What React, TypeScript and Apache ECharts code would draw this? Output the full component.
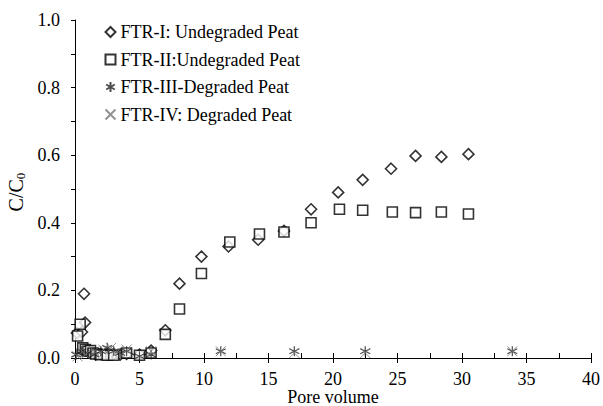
import React, { useEffect, useRef } from "react";
import * as echarts from "echarts";

const ftr1: number[][] = [
  [0.15, 0.074], [0.54, 0.077], [0.7, 0.19], [0.78, 0.105], [1.0, 0.02], [1.3, 0.015],
  [1.6, 0.01], [2.0, 0.012], [2.5, 0.01], [3.0, 0.012], [3.5, 0.01], [4.0, 0.012],
  [5.0, 0.01], [5.9, 0.022], [7.0, 0.082], [8.1, 0.22], [9.8, 0.3], [11.9, 0.33],
  [14.2, 0.35], [16.2, 0.376], [18.3, 0.44], [20.4, 0.49], [22.3, 0.527], [24.5, 0.56],
  [26.4, 0.598], [28.4, 0.595], [30.5, 0.603],
];
const ftr2: number[][] = [
  [0.2, 0.065], [0.4, 0.1], [0.6, 0.03], [0.8, 0.025], [1.0, 0.02], [1.2, 0.022],
  [1.4, 0.015], [1.6, 0.012], [2.0, 0.01], [2.5, 0.008], [3.0, 0.008], [4.0, 0.015],
  [5.0, 0.008], [5.9, 0.015], [7.0, 0.07], [8.1, 0.145], [9.8, 0.25], [12.0, 0.343],
  [14.3, 0.367], [16.2, 0.373], [18.3, 0.4], [20.5, 0.44], [22.3, 0.437], [24.6, 0.432],
  [26.4, 0.43], [28.4, 0.432], [30.5, 0.426],
];
const ftr3: number[][] = [
  [0.1, 0.01], [0.5, 0.02], [1.0, 0.015], [1.5, 0.01], [2.0, 0.02], [2.5, 0.03],
  [3.0, 0.02], [3.5, 0.015], [4.0, 0.02], [5.0, 0.005], [5.9, 0.01], [11.3, 0.02],
  [17.0, 0.02], [22.5, 0.02], [33.9, 0.02],
];
const ftr4: number[][] = [
  [0.2, 0.005], [0.8, 0.01], [1.5, 0.02], [2.2, 0.025], [2.8, 0.03], [3.3, 0.02],
  [4.0, 0.025], [5.9, 0.02], [11.3, 0.02], [17.0, 0.015], [22.5, 0.015], [33.9, 0.02],
];
const seriesNames = [
  "FTR-I: Undegraded Peat",
  "FTR-II:Undegraded Peat",
  "FTR-III-Degraded Peat",
  "FTR-IV: Degraded Peat",
];

const FONT = "Liberation Serif";
const FS = 18;
const STAR = "path://M5,0L5,10M0.7,2.5L9.3,7.5M0.7,7.5L9.3,2.5";
const CROSS = "path://M0,0L10,10M10,0L0,10";

export default function App() {
  const ref = useRef<HTMLDivElement>(null);
  useEffect(() => {
    if (!ref.current) return;
    const chart = echarts.init(ref.current, undefined, { renderer: "svg" });
    chart.setOption({
      animation: false,
      textStyle: { fontFamily: FONT, color: "#000" },
      grid: { left: 75, right: 12, top: 20, bottom: 48, outerBoundsMode: "none", containLabel: false },
      legend: {
        orient: "vertical",
        left: 98,
        top: 18,
        itemWidth: 10,
        itemHeight: 10,
        itemGap: 9.5,
        textStyle: { fontFamily: FONT, fontSize: FS, color: "#000" },
        data: seriesNames,
      },
      xAxis: [
        {
          type: "value",
          min: 0,
          max: 40,
          interval: 5,
          name: "Pore volume",
          nameLocation: "middle",
          nameGap: 31,
          nameMoveOverlap: false,
          nameTextStyle: { fontFamily: FONT, fontSize: FS, lineHeight: 16, color: "#000" },
          axisLine: { show: true, lineStyle: { color: "#000", width: 1 } },
          axisTick: { show: true, length: 5, lineStyle: { color: "#000" } },
          axisLabel: { fontFamily: FONT, fontSize: FS, lineHeight: 16, color: "#000", margin: 13 },
          splitLine: { show: false },
        },
        {
          type: "value",
          min: 0,
          max: 40,
          interval: 5,
          position: "bottom",
          axisLine: { show: false },
          axisTick: { show: true, inside: true, length: 5, lineStyle: { color: "#000" } },
          minorTick: { show: true, splitNumber: 2, length: 5, lineStyle: { color: "#000" } },
          axisLabel: { show: false },
          splitLine: { show: false },
        },
      ],
      yAxis: {
        type: "value",
        min: 0,
        max: 1,
        interval: 0.2,
        name: "C/C{sub|0}",
        nameLocation: "middle",
        nameGap: 48,
        nameMoveOverlap: false,
        nameTextStyle: {
          fontFamily: FONT,
          fontSize: 20,
          color: "#000",
          padding: [0, 6, 0, 0],
          rich: { sub: { fontFamily: FONT, fontSize: 13, color: "#000", verticalAlign: "bottom", padding: [10, 0, 0, 0] } },
        },
        axisLine: { show: true, lineStyle: { color: "#000", width: 1 } },
        axisTick: { show: true, length: 4, lineStyle: { color: "#000" } },
        minorTick: { show: true, splitNumber: 2, length: 4, lineStyle: { color: "#000" } },
        axisLabel: {
          fontFamily: FONT,
          fontSize: FS,
          color: "#000",
          margin: 15,
          formatter: (v: number) => v.toFixed(1),
        },
        splitLine: { show: false },
      },
      series: [
        {
          name: seriesNames[0],
          type: "scatter",
          data: ftr1,
          symbol: "diamond",
          symbolSize: 11,
          itemStyle: { color: "#fff", borderColor: "#000", borderWidth: 1.6 },
        },
        {
          name: seriesNames[1],
          type: "scatter",
          data: ftr2,
          symbol: "rect",
          symbolSize: 10,
          itemStyle: { color: "#fff", borderColor: "#000", borderWidth: 1.6 },
        },
        {
          name: seriesNames[2],
          type: "scatter",
          data: ftr3,
          symbol: STAR,
          symbolSize: 10,
          itemStyle: { color: "none", borderColor: "#222", borderWidth: 1.2 },
        },
        {
          name: seriesNames[3],
          type: "scatter",
          data: ftr4,
          symbol: CROSS,
          symbolSize: 10,
          itemStyle: { color: "none", borderColor: "#777", borderWidth: 1 },
        },
      ],
    });
    return () => chart.dispose();
  }, []);
  return <div ref={ref} style={{ width: 603, height: 406, position: "absolute", left: 0, top: 0 }} />;
}
